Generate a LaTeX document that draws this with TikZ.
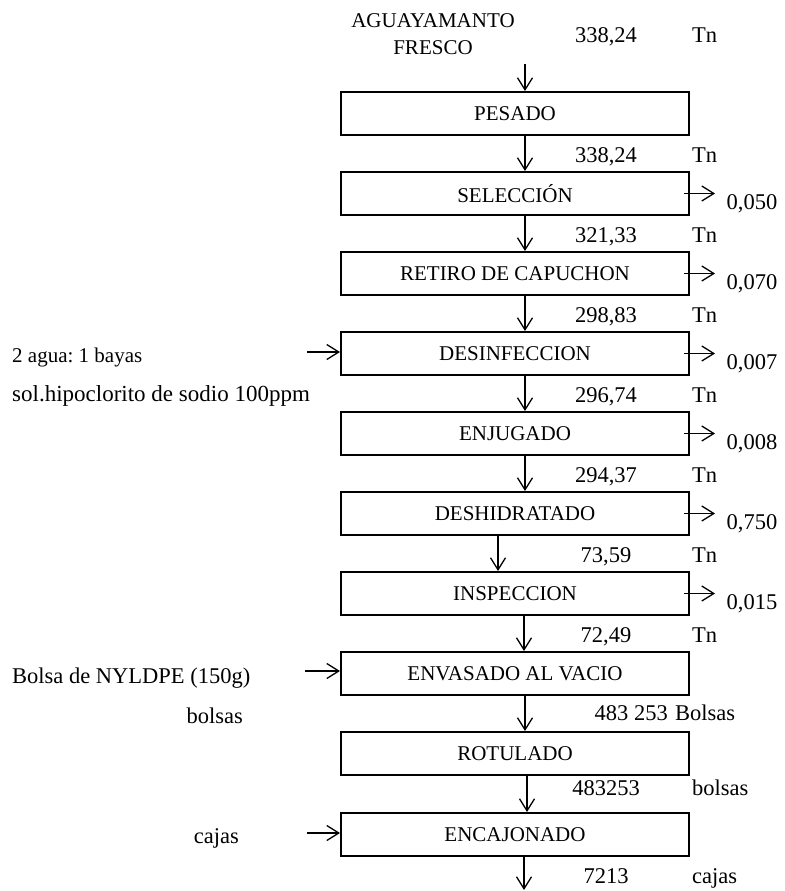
\documentclass[tikz,border=0pt]{standalone}
\usepackage{fontspec}
\setmainfont{Liberation Serif}
\usetikzlibrary{arrows.meta}
\frenchspacing
\begin{document}
\begin{tikzpicture}[x=1pt,y=-1pt,
  every node/.style={font=\fontsize{21}{25}\selectfont, inner sep=0pt},
  procbox/.style={draw, line width=2pt, minimum width=348pt, minimum height=43pt},
  flow/.style={line width=1.3pt, -{Straight Barb[length=12pt,width=15pt]}},
  big/.style={font=\fontsize{22.5}{26}\selectfont},
  num/.style={big, anchor=base},
  unit/.style={big, anchor=base west},
  lefttxt/.style={big, anchor=base west},
  lefttxtr/.style={big, anchor=base east},
]
\useasboundingbox (0,0) rectangle (784,891);

% process boxes
\node[procbox] (pesado)       at (515,113.5) {PESADO};
\node[procbox] (seleccion)    at (515,193.5) {SELECCIÓN};
\node[procbox] (retiro)       at (515,273.5) {RETIRO DE CAPUCHON};
\node[procbox] (desinf)       at (515,353.5) {DESINFECCION};
\node[procbox] (enjugado)     at (515,433.5) {ENJUGADO};
\node[procbox] (deshid)       at (515,513.5) {DESHIDRATADO};
\node[procbox] (inspeccion)   at (515,593.5) {INSPECCION};
\node[procbox] (envasado)     at (515,673.5) {ENVASADO AL VACIO};
\node[procbox] (rotulado)     at (515,753.5) {ROTULADO};
\node[procbox] (encajonado)   at (515,834.5) {ENCAJONADO};

% input text
\node (agua1) [anchor=base] at (433,28) {AGUAYAMANTO};
\node (agua2) [anchor=base] at (433,55) {FRESCO};
\coordinate (start) at (525,64);
\coordinate (finish) at (524,890);

% vertical flow
\draw[flow] (start) -- ([xshift=10pt]pesado.north);
\draw[flow] ([xshift=10pt]pesado.south) -- ([xshift=10pt]seleccion.north);
\draw[flow] ([xshift=10pt]seleccion.south) -- ([xshift=10pt]retiro.north);
\draw[flow] ([xshift=10pt]retiro.south) -- ([xshift=10pt]desinf.north);
\draw[flow] ([xshift=10pt]desinf.south) -- ([xshift=10pt]enjugado.north);
\draw[flow] ([xshift=10pt]enjugado.south) -- ([xshift=10pt]deshid.north);
\draw[flow] ([xshift=-17pt]deshid.south) -- ([xshift=-17pt]inspeccion.north);
\draw[flow] ([xshift=9pt]inspeccion.south) -- ([xshift=9pt]envasado.north);
\draw[flow] ([xshift=10pt]envasado.south) -- ([xshift=10pt]rotulado.north);
\draw[flow] ([xshift=12pt]rotulado.south) -- ([xshift=12pt]encajonado.north);
\draw[flow] ([xshift=9pt]encajonado.south) -- (finish);

% quantities
\node[num] (q0) at (606,43) {338,24};   \node[unit] (u0) at (692,43) {Tn};
\node[num] (q1) at (606,162) {338,24};  \node[unit] (u1) at (692,162) {Tn};
\node[num] (q2) at (606,242) {321,33};  \node[unit] (u2) at (692,242) {Tn};
\node[num] (q3) at (606,322) {298,83};  \node[unit] (u3) at (692,322) {Tn};
\node[num] (q4) at (606,402) {296,74};  \node[unit] (u4) at (692,402) {Tn};
\node[num] (q5) at (606,482) {294,37};  \node[unit] (u5) at (692,482) {Tn};
\node[num] (q6) at (606,562) {73,59};   \node[unit] (u6) at (692,562) {Tn};
\node[num] (q7) at (606,642) {72,49};   \node[unit] (u7) at (692,642) {Tn};
\node[big, anchor=base east] (q8) at (668,720) {483 253}; \node[unit] (u8) at (675,720) {Bolsas};
\node[num] (q9) at (606,795) {483253};  \node[unit] (u9) at (692,795) {bolsas};
\node[num] (q10) at (606,883) {7213};   \node[unit] (u10) at (692,883) {cajas};

% outputs (losses)
\draw[flow] ([xshift=-6pt]seleccion.east) -- +(31pt,0);
\draw[flow] ([xshift=-6pt]retiro.east) -- +(31pt,0);
\draw[flow] ([xshift=-6pt]desinf.east) -- +(31pt,0);
\draw[flow] ([xshift=-6pt]enjugado.east) -- +(31pt,0);
\draw[flow] ([xshift=-6pt]deshid.east) -- +(31pt,0);
\draw[flow] ([xshift=-6pt]inspeccion.east) -- +(31pt,0);
\node[num] (l1) at (752,209) {0,050};
\node[num] (l2) at (752,289) {0,070};
\node[num] (l3) at (752,369) {0,007};
\node[num] (l4) at (752,449) {0,008};
\node[num] (l5) at (752,529) {0,750};
\node[num] (l6) at (752,609) {0,015};

% inputs from the left
\node[anchor=base west] (in1) at (12,362) {2 agua: 1 bayas};
\node[lefttxt, font=\fontsize{23}{27}\selectfont] (in1b) at (12,401) {sol.hipoclorito de sodio 100ppm};
\node[lefttxt] (in2) at (12,683) {Bolsa de NYLDPE (150g)};
\node[lefttxtr] (in2b) at (243,723) {bolsas};
\node[lefttxtr] (in3) at (239,843) {cajas};
\coordinate (a1) at (307,352);
\coordinate (a2) at (305,671);
\coordinate (a3) at (307,833);
\draw[flow] (a1) -- (a1 -| desinf.west);
\draw[flow] (a2) -- (a2 -| envasado.west);
\draw[flow] (a3) -- (a3 -| encajonado.west);
\end{tikzpicture}
\end{document}
